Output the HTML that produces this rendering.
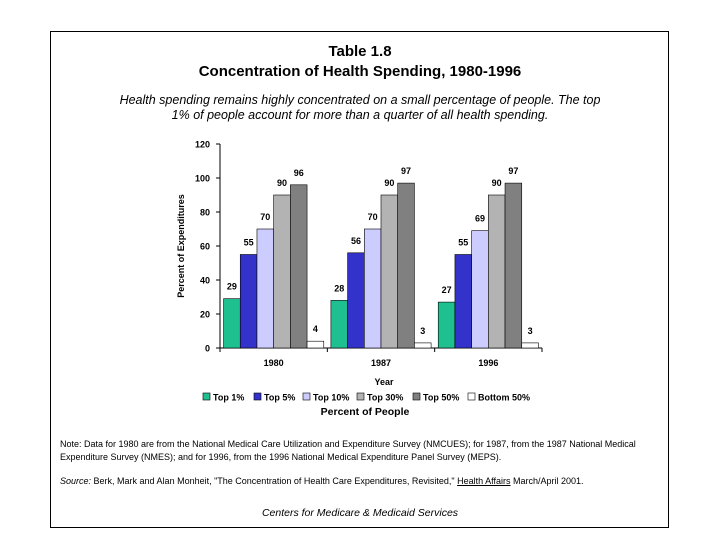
<!DOCTYPE html>
<html><head><meta charset="utf-8"><style>
body{margin:0;background:#fff;width:720px;height:540px;overflow:hidden;font-family:"Liberation Sans",Arial,sans-serif}
#frame{position:absolute;left:50px;top:31px;width:619px;height:497px;border:1px solid #000;box-sizing:border-box}
.t{position:absolute;left:0;width:720px;text-align:center}
</style></head><body>
<div id="frame"></div>
<div class="t" style="top:42px;font-size:15px;font-weight:bold;line-height:20px">Table 1.8<br>Concentration of Health Spending, 1980-1996</div>
<div class="t" style="top:93px;font-size:12.5px;font-style:italic;line-height:15px">Health spending remains highly concentrated on a small percentage of people. The top<br>1% of people account for more than a quarter of all health spending.</div>
<svg id="chart" width="720" height="540" style="position:absolute;left:0;top:0"></svg>
<div style="position:absolute;left:60px;top:438px;width:610px;font-size:9px;line-height:13px">Note: Data for 1980 are from the National Medical Care Utilization and Expenditure Survey (NMCUES); for 1987, from the 1987 National Medical Expenditure Survey (NMES); and for 1996, from the 1996 National Medical Expenditure Panel Survey (MEPS).</div>
<div style="position:absolute;left:60px;top:475px;width:610px;font-size:9px;line-height:13px"><i>Source:</i> Berk, Mark and Alan Monheit, "The Concentration of Health Care Expenditures, Revisited," <u>Health Affairs</u> March/April 2001.</div>
<div class="t" style="top:507px;font-size:10.5px;font-style:italic">Centers for Medicare &amp; Medicaid Services</div>
<script>
const categories=["1980","1987","1996"];
const seriesNames=["Top 1%","Top 5%","Top 10%","Top 30%","Top 50%","Bottom 50%"];
const seriesColors=["#1fc08f","#3333cc","#ccccff","#b3b3b3","#808080","#ffffff"];
const values=[[29,55,70,90,96,4],[28,56,70,90,97,3],[27,55,69,90,97,3]];
const yTicks=[0,20,40,60,80,100,120];
const NS="http://www.w3.org/2000/svg";
const svg=document.getElementById('chart');
const x0=220,x1=542,yb=348,yt=144,ymax=120;
const y=v=>yb-(v/ymax)*(yb-yt);
const gw=(x1-x0)/3,bw=16.7,pad=(gw-6*bw)/2;
function mk(t,a){const e=document.createElementNS(NS,t);for(const k in a)e.setAttribute(k,a[k]);svg.appendChild(e);return e;}
let ax=mk('line',{x1:x0,y1:yt,x2:x0,y2:yb,stroke:'#000'});

let bx=mk('line',{x1:x0,y1:yb,x2:x1,y2:yb,stroke:'#000'});

yTicks.forEach(v=>{
 mk('line',{x1:x0-4,y1:y(v),x2:x0,y2:y(v),stroke:'#000'});
 const t=mk('text',{x:x0-10,y:y(v)+3.5,'text-anchor':'end','font-size':9,'font-weight':'bold'});t.textContent=v;
 
});
for(let i=0;i<=3;i++)mk('line',{x1:x0+gw*i,y1:yb,x2:x0+gw*i,y2:yb+4,stroke:'#000'});
categories.forEach((c,i)=>{
 const t=mk('text',{x:x0+gw*i+gw/2,y:yb+18,'text-anchor':'middle','font-size':9,'font-weight':'bold'});t.textContent=c;
 
 values[i].forEach((v,j)=>{
  const bxp=x0+gw*i+pad+j*bw;
  const r=mk('rect',{x:bxp,y:y(v),width:bw,height:yb-y(v),fill:seriesColors[j],stroke:'#000','stroke-width':0.6});
  
  const l=mk('text',{x:bxp+bw/2,y:y(v)-9,'text-anchor':'middle','font-size':9,'font-weight':'bold'});l.textContent=v;
  
 });
});
let yt2=mk('text',{transform:'translate(184,246) rotate(-90)','text-anchor':'middle','font-size':9,'font-weight':'bold'});yt2.textContent='Percent of Expenditures';

let xt=mk('text',{x:384,y:385,'text-anchor':'middle','font-size':9,'font-weight':'bold'});xt.textContent='Year';

const legX=[203,254,303,357,413,468];
seriesNames.forEach((n,j)=>{
 const r=mk('rect',{x:legX[j],y:393,width:7,height:7,fill:seriesColors[j],stroke:'#000','stroke-width':0.6});
 
 const t=mk('text',{x:legX[j]+10,y:400.5,'font-size':9,'font-weight':'bold'});t.textContent=n;
 
});
let lt=mk('text',{x:365,y:415,'text-anchor':'middle','font-size':10.5,'font-weight':'bold'});lt.textContent='Percent of People';

</script>
</body></html>
